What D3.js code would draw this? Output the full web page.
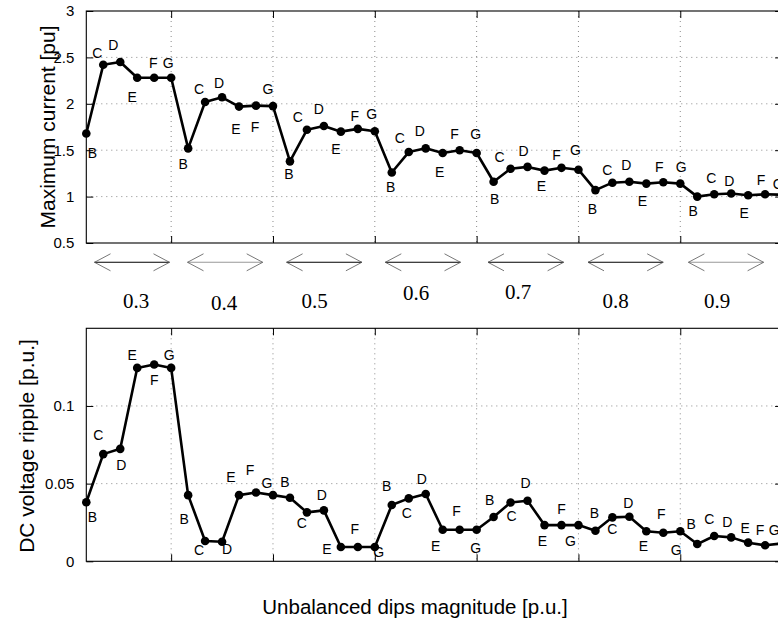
<!DOCTYPE html>
<html>
<head>
<meta charset="utf-8">
<script src="https://cdn.jsdelivr.net/npm/d3@7"></script>
<style>
  html, body { margin: 0; padding: 0; background: #fff; }
  svg { display: block; }
</style>
</head>
<body>
<svg id="chart" width="778" height="625"></svg>
<script>
// ---------------- DATA ----------------
const dipMagnitudes = ["0.3", "0.4", "0.5", "0.6", "0.7", "0.8", "0.9"];
const faultTypes = ["B", "C", "D", "E", "F", "G"];

// Maximum current [pu], 6 fault types per dip magnitude
const maxCurrent = [
  1.68, 2.42, 2.45, 2.28, 2.28, 2.28,
  1.52, 2.02, 2.07, 1.97, 1.98, 1.975,
  1.38, 1.72, 1.76, 1.70, 1.73, 1.705,
  1.26, 1.48, 1.52, 1.47, 1.50, 1.47,
  1.16, 1.30, 1.32, 1.28, 1.31, 1.29,
  1.07, 1.15, 1.16, 1.14, 1.155, 1.14,
  1.00, 1.025, 1.033, 1.015, 1.025, 1.02
];

// DC voltage ripple [p.u.]
const dcRipple = [
  0.038, 0.069, 0.0724, 0.1245, 0.1267, 0.1245,
  0.0426, 0.0131, 0.0126, 0.0426, 0.0443, 0.0426,
  0.0409, 0.0315, 0.0328, 0.0092, 0.0092, 0.0092,
  0.0362, 0.0405, 0.0433, 0.0203, 0.0203, 0.0203,
  0.0285, 0.0379, 0.0390, 0.0233, 0.0233, 0.0233,
  0.0197, 0.0283, 0.0287, 0.0193, 0.0184, 0.0193,
  0.0111, 0.0163, 0.0154, 0.0120, 0.0103, 0.0115
];

const topYTicks = [0.5, 1, 1.5, 2, 2.5, 3];
const topYTickLabels = ["0.5", "1", "1.5", "2", "2.5", "3"];
const botYTicks = [0, 0.05, 0.1];
const botYTickLabels = ["0", "0.05", "0.1"];

// ---------------- LAYOUT (annotation offsets, px) ----------------
const topLabelOffsets = [
  [6,20],[-6,-12],[-7,-17],[-5,19],[-1,-15],[-3,-15],
  [-5,16],[-6,-13],[-3,-14],[-3,22],[-1,21],[-5,-17],
  [-1,13],[-9,-13],[-5,-17],[-5,17],[-3,-13],[-3,-17],
  [-1,15],[-9,-14],[-6,-17],[-3,19],[-5,-16],[-1,-19],
  [1,17],[-11,-12],[-4,-16],[-3,15],[-5,-13],[-3,-20],
  [-3,19],[-5,-13],[-3,-17],[-4,17],[-4,-15],[1,-17],
  [-4,14],[-3,-16],[-2,-13],[-4,18],[-4,-14],[-4,-11]
];
const botLabelOffsets = [
  [6,15],[-5,-19],[1,16],[-5,-13],[0,16],[-2,-13],
  [-4,24],[-6,9],[5,7],[-8,-18],[-6,-22],[-6,-12],
  [-5,-16],[-5,11],[-2,-15],[-14,2],[-3,-18],[4,5],
  [-5,-19],[-2,15],[-4,-15],[-7,16],[-3,-19],[-1,18],
  [-4,-17],[1,14],[-2,-18],[-2,16],[0,-16],[-8,16],
  [-1,-18],[0,12],[-1,-14],[-3,15],[-2,-19],[-4,19],
  [-6,-20],[-5,-17],[-4,-15],[-3,-15],[-5,-15],[-8,-13]
];
// arrow annotation (between panels)
const arrowTips = [[94.5,169.5],[187.5,262.7],[286.6,361.9],[385.3,460.5],[488,563.6],[588,663.2],[688.4,763.6]];
const arrowLabelPos = [[136,300.5],[224,302.5],[314.5,300.5],[416,293],[518,291.5],[615.5,300.5],[717,300.5]];
const arrowShaftColors = ["#000","#999","#000","#000","#000","#000","#999"];

// ---------------- DRAW ----------------
const svg = d3.select("#chart");
const n = maxCurrent.length;
const idx = d3.range(n);

const x = d3.scaleLinear().domain([0, n - 1]).range([86.3, 782.1]);
const xTicks = d3.range(5, n, 6); // group boundaries (G of each group)

const panels = [
  { values: maxCurrent, y: d3.scaleLinear().domain([0.5, 3]).range([243, 11]),
    ticks: topYTicks, tickLabels: topYTickLabels, offsets: topLabelOffsets,
    title: "Maximum current [pu]", titleX: 55, titleY: 127 },
  { values: dcRipple, y: d3.scaleLinear().domain([0, 0.15]).range([561.3, 328.3]),
    ticks: botYTicks, tickLabels: botYTickLabels, offsets: botLabelOffsets,
    title: "DC voltage ripple [p.u.]", titleX: 33.5, titleY: 446 }
];

const FONT = "'Liberation Sans', Arial, Helvetica, sans-serif";
const tickLen = 7;

panels.forEach(p => {
  const g = svg.append("g");
  const [y0, y1] = p.y.range(); // bottom, top
  const xL = x.range()[0], xR = x.range()[1];

  // grid
  const gridY = p.ticks.filter(t => p.y(t) < y0 - 1 && p.y(t) > y1 + 1);
  g.selectAll(".hgrid").data(gridY).join("line")
    .attr("x1", xL).attr("x2", xR)
    .attr("y1", d => p.y(d)).attr("y2", d => p.y(d))
    .attr("stroke", "#8a8a8a").attr("stroke-width", 1).attr("stroke-dasharray", "1,4");
  g.selectAll(".vgrid").data(xTicks.filter(t => t < n - 1)).join("line")
    .attr("x1", d => x(d)).attr("x2", d => x(d))
    .attr("y1", y1).attr("y2", y0)
    .attr("stroke", "#8a8a8a").attr("stroke-width", 1).attr("stroke-dasharray", "1,4");

  // axes via d3 axes (ticks inward)
  const yAxisL = d3.axisLeft(p.y).tickValues(p.ticks).tickFormat((d, i) => p.tickLabels[i])
    .tickSizeInner(-tickLen).tickSizeOuter(0).tickPadding(5 + tickLen);
  const gl = g.append("g").attr("transform", `translate(${xL},0)`).call(yAxisL);
  gl.selectAll("text").attr("font-family", FONT).attr("font-size", 15).attr("fill", "#000");
  gl.selectAll("line").attr("stroke", "#000");
  gl.select(".domain").remove();

  const yAxisR = d3.axisRight(p.y).tickValues(p.ticks).tickFormat("")
    .tickSizeInner(-tickLen).tickSizeOuter(0);
  const gr = g.append("g").attr("transform", `translate(${xR},0)`).call(yAxisR);
  gr.selectAll("line").attr("stroke", "#000");
  gr.select(".domain").remove();

  const xAxisB = d3.axisBottom(x).tickValues(xTicks).tickFormat("")
    .tickSizeInner(-tickLen).tickSizeOuter(0);
  const gb = g.append("g").attr("transform", `translate(0,${y0})`).call(xAxisB);
  gb.selectAll("line").attr("stroke", "#000");
  gb.select(".domain").remove();

  const xAxisT = d3.axisTop(x).tickValues(xTicks).tickFormat("")
    .tickSizeInner(-tickLen).tickSizeOuter(0);
  const gt = g.append("g").attr("transform", `translate(0,${y1})`).call(xAxisT);
  gt.selectAll("line").attr("stroke", "#000");
  gt.select(".domain").remove();

  // box
  g.append("rect").attr("x", xL).attr("y", y1).attr("width", xR - xL).attr("height", y0 - y1)
    .attr("fill", "none").attr("stroke", "#000").attr("stroke-width", 1.1);

  // line
  const line = d3.line().x(i => x(i)).y(i => p.y(p.values[i]));
  g.append("path").datum(idx).attr("d", line)
    .attr("fill", "none").attr("stroke", "#000").attr("stroke-width", 2.6)
    .attr("stroke-linejoin", "round");

  // markers
  g.selectAll(".pt").data(idx).join("circle")
    .attr("cx", i => x(i)).attr("cy", i => p.y(p.values[i])).attr("r", 4.3)
    .attr("fill", "#000");

  // fault-type labels
  g.selectAll(".lbl").data(idx).join("text")
    .attr("x", i => x(i) + p.offsets[i][0])
    .attr("y", i => p.y(p.values[i]) + p.offsets[i][1] + 5)
    .attr("text-anchor", "middle")
    .attr("font-family", FONT).attr("font-size", 14).attr("fill", "#000")
    .text(i => faultTypes[i % faultTypes.length]);

  // y title
  svg.append("text")
    .attr("transform", `translate(${p.titleX},${p.titleY}) rotate(-90)`)
    .attr("text-anchor", "middle")
    .attr("font-family", FONT).attr("font-size", 21).attr("fill", "#000")
    .text(p.title);
});

// x title
svg.append("text")
  .attr("x", 415).attr("y", 614.3)
  .attr("text-anchor", "middle")
  .attr("font-family", FONT).attr("font-size", 20.5).attr("fill", "#000")
  .text("Unbalanced dips magnitude [p.u.]");

// double arrows + dip magnitude labels
const arrowY = 262.3;
const ag = svg.append("g");
dipMagnitudes.forEach((lab, i) => {
  const [a, b] = arrowTips[i];
  ag.append("line").attr("x1", a).attr("x2", b).attr("y1", arrowY).attr("y2", arrowY)
    .attr("stroke", arrowShaftColors[i]).attr("stroke-width", 1.1);
  const hx = 16, hy = 8.5;
  ag.append("path")
    .attr("d", `M${a + hx},${arrowY - hy} L${a},${arrowY} L${a + hx},${arrowY + hy}`)
    .attr("fill", "none").attr("stroke", "#555").attr("stroke-width", 0.8);
  ag.append("path")
    .attr("d", `M${b - hx},${arrowY - hy} L${b},${arrowY} L${b - hx},${arrowY + hy}`)
    .attr("fill", "none").attr("stroke", "#555").attr("stroke-width", 0.8);
  ag.append("text")
    .attr("x", arrowLabelPos[i][0]).attr("y", arrowLabelPos[i][1] + 7.3)
    .attr("text-anchor", "middle")
    .attr("font-family", "'Liberation Serif', 'Times New Roman', serif")
    .attr("font-size", 21).attr("fill", "#000")
    .text(lab);
});
</script>
</body>
</html>
